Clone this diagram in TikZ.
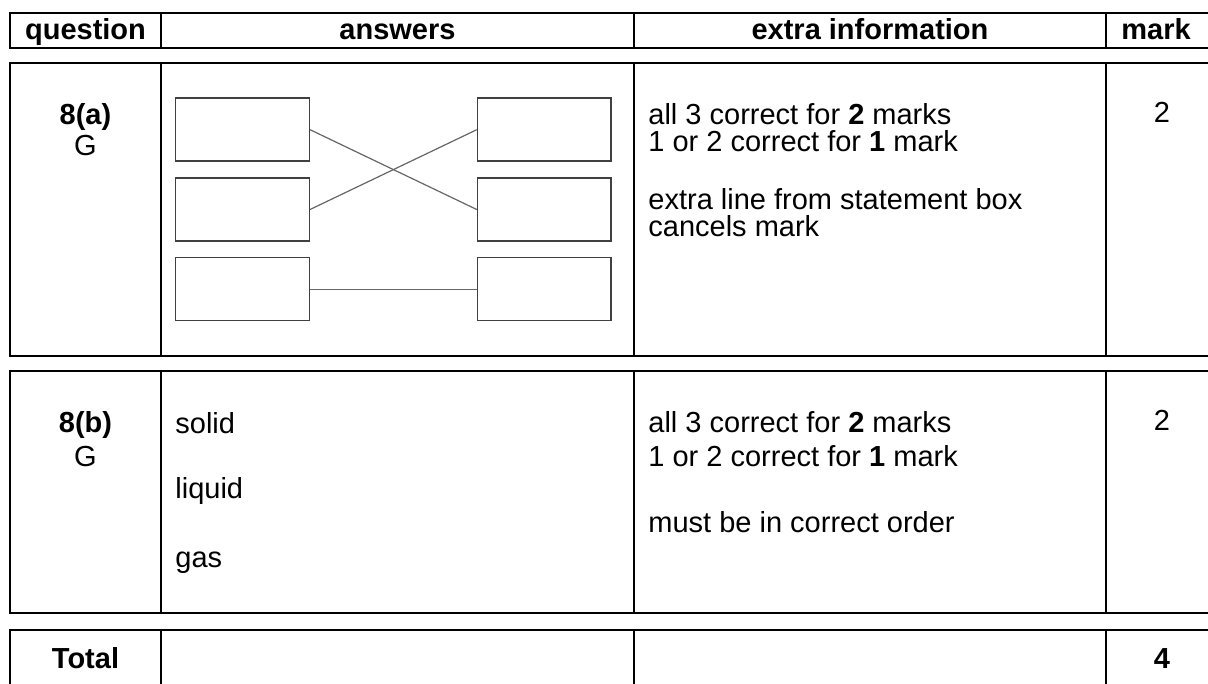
\documentclass[tikz,border=0pt]{standalone}
\usepackage{fontspec}
\setmainfont{Liberation Sans}
\usepackage{tikz}

\begin{document}
\begin{tikzpicture}[x=0.5pt, y=-0.5pt,
  every node/.style={inner sep=0pt, font=\fontsize{14.5}{16.7}\selectfont},
  rule/.style={line width=1pt},
  head/.style={font=\fontsize{14.5}{16.7}\selectfont\bfseries},
  match box/.style={draw=black!75, line width=0.75pt, minimum width=66.8pt, minimum height=31.5pt},
  match line/.style={draw=black!60, line width=0.6pt}]
\useasboundingbox (0,0) rectangle (1208,684);
\clip (0,0) rectangle (1208,684);

% table rows, open to the right and bottom of the page
\foreach \ytop/\ybot in {13/48, 63/356, 371/613, 630/700} {
  \draw[rule] (10,\ytop) rectangle (1220,\ybot);
  \foreach \x in {161, 634, 1106}
    \draw[rule] (\x,\ytop) -- (\x,\ybot);
}

\node[head, anchor=base] (question head) at (85.5,40) {question};
\node[head, anchor=base] (answers head) at (397.5,40) {answers};
\node[head, anchor=base] (extra head) at (870,40) {extra information};
\node[head, anchor=base] (mark head) at (1156,40) {mark};

% 8(a)
\node[head, anchor=base] (a number) at (85.5,125) {8(a)};
\node[anchor=base] (a code) at (85.5,156) {G};

\node[match box] (left 1) at (242.5,129.7) {};
\node[match box] (left 2) at (242.5,209.5) {};
\node[match box] (left 3) at (242.5,289.2) {};
\node[match box] (right 1) at (544.3,129.7) {};
\node[match box] (right 2) at (544.3,209.5) {};
\node[match box] (right 3) at (544.3,289.2) {};

\draw[match line] (left 1.east) -- (right 2.west);
\draw[match line] (left 2.east) -- (right 1.west);
\draw[match line] (left 3.east) -- (right 3.west);

\node[anchor=base west] (a info 1) at (648,125) {all 3 correct for \textbf{2} marks};
\node[anchor=base west] (a info 2) at (648,152) {1 or 2 correct for \textbf{1} mark};
\node[anchor=base west] (a info 3) at (648,209) {extra line from statement box};
\node[anchor=base west] (a info 4) at (648,236) {cancels mark};

\node[anchor=base] (a mark) at (1162,123) {2};

% 8(b)
\node[head, anchor=base] (b number) at (85.5,432) {8(b)};
\node[anchor=base] (b code) at (85.5,466) {G};

\node[anchor=base west] (solid) at (175,433) {solid};
\node[anchor=base west] (liquid) at (175,498) {liquid};
\node[anchor=base west] (gas) at (175,567) {gas};

\node[anchor=base west] (b info 1) at (648,432) {all 3 correct for \textbf{2} marks};
\node[anchor=base west] (b info 2) at (648,466) {1 or 2 correct for \textbf{1} mark};
\node[anchor=base west] (b info 3) at (648,532) {must be in correct order};

\node[anchor=base] (b mark) at (1162,430) {2};

% total
\node[head, anchor=base] (total) at (85.5,668) {Total};
\node[head, anchor=base] (total mark) at (1162,668) {4};
\end{tikzpicture}
\end{document}
